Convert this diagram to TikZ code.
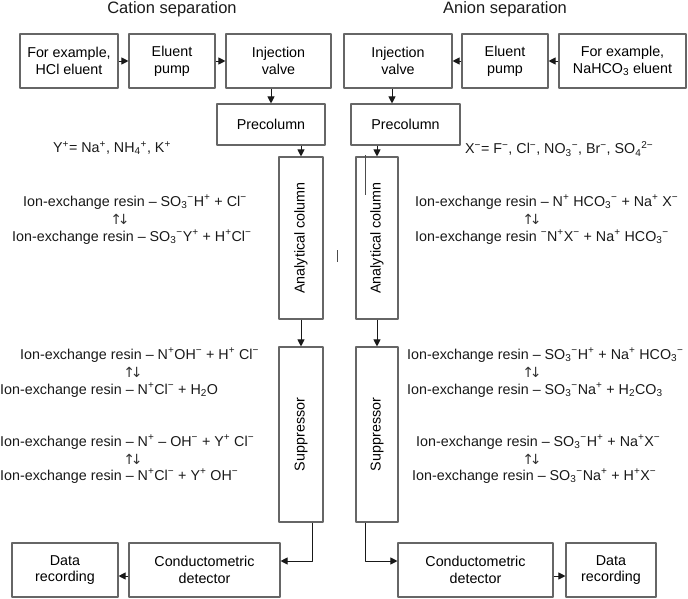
\documentclass[tikz,border=0pt]{standalone}
\usepackage{fontspec}
\setmainfont{Liberation Sans}
\newfontfamily\symfont{DejaVu Sans}
\usepackage{graphicx}
\usetikzlibrary{arrows.meta}

\newcommand{\chup}[1]{\textsuperscript{#1}}
\newcommand{\chdn}[1]{\textsubscript{#1}}
\newcommand{\chud}[2]{\chdn{#1}\chup{#2}}
\newcommand{\bodyfont}{\fontsize{14.3}{16.8}\selectfont}
\newcommand{\ttlfont}{\fontsize{16.5}{19}\selectfont}
\newcommand{\resin}{Ion-exchange resin}

\tikzset{
	unit/.style={draw=black!60, line width=1.1pt, align=center, inner sep=0pt},
	flow/.style={draw=black!90, line width=1pt, -{Triangle[length=7pt,width=7pt]}},
	eqn/.style={anchor=west, inner sep=0pt, text=black!90},
	eqarr/.style={inner sep=0pt, text=black!80, font=\symfont\fontsize{14}{16}\selectfont},
}

\begin{document}
\begin{tikzpicture}[x=1pt, y=-1pt, font=\bodyfont, line join=round]
	\useasboundingbox (0,0) rectangle (688,598);
	
	% Tieu de
	\node[font=\ttlfont, text=black!90] (tL) at (172,9) {Cation separation};
	\node[font=\ttlfont, text=black!90] (tR) at (505,9) {Anion separation};
	
	% Cac hop - ben trai
	\node[unit, minimum width=98, minimum height=54] (L1) at (69,61) {For example,\\HCl eluent};
	\node[unit, minimum width=86, minimum height=54] (L2) at (172,61) {Eluent\\pump};
	\node[unit, minimum width=105, minimum height=54] (L3) at (278.5,61) {Injection\\valve};
	\node[unit, minimum width=108, minimum height=41] (LP) at (271,124.5) {Precolumn};
	\node[unit, minimum width=44, minimum height=162] (LA) at (301,238) {\rotatebox{90}{Analytical column}};
	\node[unit, minimum width=44, minimum height=175] (LS) at (301,434.5) {\rotatebox{90}{Suppressor}};
	\node[unit, minimum width=151, minimum height=54] (LD) at (204.5,570) {Conductometric\\detector};
	\node[unit, minimum width=106, minimum height=54] (LR) at (65,570) {Data\\recording};
	
	% Cac hop - ben phai
	\node[unit, minimum width=108, minimum height=54] (R3) at (398,61) {Injection\\valve};
	\node[unit, minimum width=86, minimum height=54] (R2) at (505,61) {Eluent\\pump};
	\node[unit, minimum width=127, minimum height=54] (R1) at (622.5,61) {For example,\\NaHCO\chdn{3} eluent};
	\node[unit, minimum width=109, minimum height=41] (RP) at (405.5,124.5) {Precolumn};
	\node[unit, minimum width=42, minimum height=162] (RA) at (377,238) {\rotatebox{90}{Analytical column}};
	\node[unit, minimum width=42, minimum height=175] (RS) at (377,434.5) {\rotatebox{90}{Suppressor}};
	\node[unit, minimum width=155, minimum height=54] (RD) at (475.5,570) {Conductometric\\detector};
	\node[unit, minimum width=90, minimum height=54] (RR) at (611,570) {Data\\recording};
	
	% Mui ten
	\draw[flow] (L1) -- (L2);
	\draw[flow] (L2) -- (L3);
	\draw[flow] (L3.south -| LP.north) -- (LP.north);
	\draw[flow] (LP.south -| LA.north) -- (LA.north);
	\draw[flow] (LA) -- (LS);
	\draw[flow] ([xshift=11pt]LS.south) |- ([yshift=9pt]LD.east);
	\draw[flow] ([yshift=-6pt]LD.west) -- ([yshift=-6pt]LR.east);
	
	\draw[flow] (R1) -- (R2);
	\draw[flow] (R2) -- (R3);
	\draw[flow] ([xshift=-6pt]R3.south) -- ([xshift=-13.5pt]RP.north);
	\draw[flow] (RP.south -| RA.north) -- (RA.north);
	\draw[flow] (RA) -- (RS);
	\draw[flow] ([xshift=-12pt]RS.south) |- ([yshift=9pt]RD.west);
	\draw[flow] ([yshift=-6pt]RD.east) -- ([yshift=-6pt]RR.west);
	
	% Net le
	\draw[black!70, line width=0.8pt] (365,155) -- (365,195) (337,250) -- (337,262);
	
	% Ion
	\node[eqn] (yL) at (53,148) {Y\chup{+}= Na\chup{+}, NH\chud{4}{+}, K\chup{+}};
	\node[eqn] (xR) at (465,149) {X\chup{−}= F\chup{−}, Cl\chup{−}, NO\chud{3}{−}, Br\chup{−}, SO\chud{4}{2−}};
	
	% Phuong trinh - trai
	\node[eqn] (aL1) at (23,202) {\resin{} – SO\chud{3}{−}H\chup{+} + Cl\chup{−}};
	\node[eqn] (bL1) at (12,237) {\resin{} – SO\chud{3}{−}Y\chup{+} + H\chup{+}Cl\chup{−}};
	\node[eqn] (aL2) at (20,355) {\resin{} – N\chup{+}OH\chup{−} + H\chup{+} Cl\chup{−}};
	\node[eqn] (bL2) at (0,390) {\resin{} – N\chup{+}Cl\chup{−} + H\chdn{2}O};
	\node[eqn] (aL3) at (0,442) {\resin{} – N\chup{+} – OH\chup{−} + Y\chup{+} Cl\chup{−}};
	\node[eqn] (bL3) at (0,476) {\resin{} – N\chup{+}Cl\chup{−} + Y\chup{+} OH\chup{−}};
	
	% Phuong trinh - phai
	\node[eqn] (aR1) at (415,202) {\resin{} – N\chup{+} HCO\chud{3}{−} + Na\chup{+} X\chup{−}};
	\node[eqn] (bR1) at (415,237) {\resin{} \chup{−}N\chup{+}X\chup{−} + Na\chup{+} HCO\chud{3}{−}};
	\node[eqn] (aR2) at (407,355) {\resin{} – SO\chud{3}{−}H\chup{+} + Na\chup{+} HCO\chud{3}{−}};
	\node[eqn] (bR2) at (407,390) {\resin{} – SO\chud{3}{−}Na\chup{+} + H\chdn{2}CO\chdn{3}};
	\node[eqn] (aR3) at (416,442) {\resin{} – SO\chud{3}{−}H\chup{+} + Na\chup{+}X\chup{−}};
	\node[eqn] (bR3) at (412,476) {\resin{} – SO\chud{3}{−}Na\chup{+} + H\chup{+}X\chup{−}};
	
	\foreach \k/\px/\py in {kL1/120/219, kL2/133/372, kL3/133/459, kR1/532/219, kR2/532/372, kR3/532/459}{
		\node[eqarr] (\k) at (\px,\py) {↑\kern-0.3em↓};
	}
\end{tikzpicture}
\end{document}
